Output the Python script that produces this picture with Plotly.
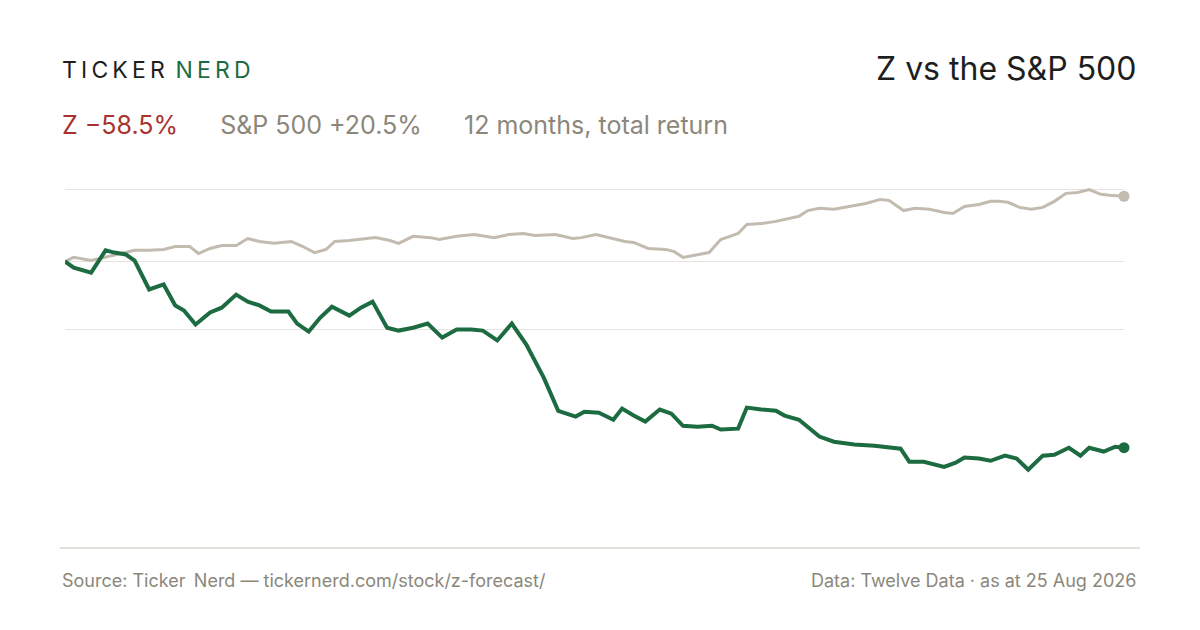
import plotly.graph_objects as go
import datetime as dt

start = dt.date(2025, 8, 25)
z_days = [0,3,9,14,17,21,24,29,34,38,41,45,50,54,59,63,67,71,77,80,84,88,92,98,102,106,111,115,120,125,130,135,140,144,149,154,159,165,170,176,179,184,189,192,196,200,205,209,213,218,223,226,232,235,240,245,248,253,260,265,272,279,288,291,296,303,307,310,315,319,324,328,332,337,341,346,350,353,358,362,365]
z_vals = [0,-1.9,-3.5,3.5,2.8,2.2,0.3,-8.8,-7.2,-13.8,-15.4,-19.8,-16.0,-14.5,-10.4,-12.6,-13.8,-15.7,-15.7,-19.5,-22.0,-17.6,-14.2,-17.0,-14.5,-12.6,-20.8,-21.7,-20.8,-19.5,-23.9,-21.4,-21.4,-21.7,-24.8,-19.5,-26.1,-36.5,-46.9,-48.7,-47.2,-47.5,-49.7,-46.2,-48.4,-50.3,-46.5,-47.8,-51.6,-51.9,-51.6,-52.8,-52.5,-45.9,-46.5,-46.9,-48.4,-49.7,-55.0,-56.6,-57.5,-57.9,-58.8,-62.9,-62.9,-64.5,-63.2,-61.6,-61.9,-62.6,-61.0,-61.9,-65.4,-61.0,-60.7,-58.5,-61.0,-58.5,-59.7,-58.2,-58.5]
sp_days = [0,3,9,14,19,24,29,34,38,43,46,50,54,59,63,67,72,78,82,86,90,93,98,103,107,112,115,120,126,129,135,141,148,153,158,162,169,175,178,183,188,193,196,201,207,210,213,217,222,226,232,235,240,245,250,253,256,260,265,271,276,281,284,289,293,298,303,306,310,315,319,322,325,329,333,337,341,345,349,353,357,360,365]
sp_vals = [0,1.3,0.3,1.3,2.5,3.5,3.5,3.8,4.7,4.7,2.5,4.1,5.0,5.0,7.2,6.3,5.7,6.3,4.7,2.8,3.8,6.3,6.6,7.2,7.5,6.6,5.7,7.9,7.5,6.9,7.9,8.5,7.5,8.5,8.8,8.2,8.5,7.2,7.5,8.5,7.5,6.3,6.0,4.1,3.8,3.1,1.3,1.9,2.8,6.9,8.8,11.6,11.9,12.6,13.5,14.2,16.0,16.7,16.4,17.3,18.2,19.5,19.2,16.0,16.7,16.4,15.4,15.1,17.3,17.9,18.9,18.9,18.6,17.0,16.4,17.0,18.9,21.4,21.7,22.6,21.1,20.8,20.5]
grid_vals = [22.6, 0, -21.4]

zx = [start + dt.timedelta(days=d) for d in z_days]
sx = [start + dt.timedelta(days=d) for d in sp_days]

GREEN = "#1c6b41"; GREY = "#c3bbb0"; RED = "#a8322d"; MUTED = "#8c877b"
fig = go.Figure()
fig.add_trace(go.Scatter(x=sx, y=sp_vals, mode="lines", line=dict(color=GREY, width=3), hoverinfo="skip", cliponaxis=False))
fig.add_trace(go.Scatter(x=zx, y=z_vals, mode="lines", line=dict(color=GREEN, width=4), hoverinfo="skip", cliponaxis=False))
fig.add_trace(go.Scatter(x=[sx[-1]], y=[sp_vals[-1]], mode="markers", marker=dict(color=GREY, size=11), cliponaxis=False))
fig.add_trace(go.Scatter(x=[zx[-1]], y=[z_vals[-1]], mode="markers", marker=dict(color=GREEN, size=11), cliponaxis=False))

fig.update_layout(
    width=1200, height=630, showlegend=False,
    paper_bgcolor="white", plot_bgcolor="white",
    margin=dict(l=65, r=76, t=166, b=82),
    font=dict(family="Inter, sans-serif", color=MUTED),
    xaxis=dict(visible=False, range=[zx[0], zx[-1]]),
    yaxis=dict(range=[-90, 30], tickvals=grid_vals, showticklabels=False, gridcolor="#e6e4df", gridwidth=1, zeroline=False),
)
fig.add_shape(type="line", xref="paper", yref="paper", x0=-0.005, x1=1.015, y0=0, y1=0, line=dict(color="#d9d6cf", width=1.5))
ann = [
    dict(x=60, y=70, text="T\u2009I\u2009C\u2009K\u2009E\u2009R\u2009 <span style='color:%s'>N\u2009E\u2009R\u2009D</span>" % GREEN, size=23, color="#1e1e1e", xa="left"),
    dict(x=1138, y=68, text="Z vs the S&amp;P 500", size=32, color="#1e1e1e", xa="right"),
    dict(x=60, y=125, text="<span style='color:%s'>Z −58.5%%</span>      S&amp;P 500 +20.5%%      12 months, total return" % RED, size=25, color=MUTED, xa="left"),
    dict(x=60, y=580, text="Source: Ticker\u2009 Nerd — tickernerd.com/stock/z-forecast/", size=18, color=MUTED, xa="left"),
    dict(x=1138, y=580, text="Data: Twelve Data · as at 25 Aug 2026", size=18, color=MUTED, xa="right"),
]
for a in ann:
    fig.add_annotation(xref="paper", yref="paper", x=(a["x"]-65)/1059, y=(548-a["y"])/382,
                       text=a["text"], showarrow=False, xanchor=a["xa"], yanchor="middle",
                       font=dict(size=a["size"], color=a["color"]))
fig.write_html("out.html", config={"displayModeBar": False})
with open("out.html") as f:
    h = f.read()
h = h.replace("<body>", "<body style='margin:0'>", 1)
with open("out.html", "w") as f:
    f.write(h)
